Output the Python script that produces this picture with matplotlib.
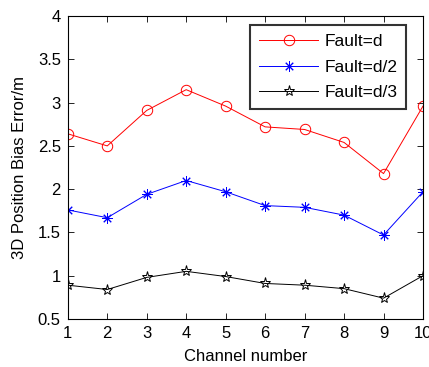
import matplotlib
matplotlib.use("Agg")
import matplotlib.pyplot as plt

plt.rcParams['font.family'] = ['Liberation Sans', 'DejaVu Sans']

channels = [1, 2, 3, 4, 5, 6, 7, 8, 9, 10]
err_d = [2.64, 2.50, 2.91, 3.15, 2.96, 2.72, 2.69, 2.54, 2.18, 2.96]
err_d2 = [1.76, 1.67, 1.94, 2.10, 1.97, 1.81, 1.79, 1.70, 1.47, 1.97]
err_d3 = [0.89, 0.84, 0.98, 1.05, 0.99, 0.91, 0.89, 0.85, 0.74, 1.00]
labels = ['Fault=d', 'Fault=d/2', 'Fault=d/3']

fig = plt.figure(figsize=(4.29, 3.67), dpi=100)
ax = fig.add_axes([0.158, 0.131, 0.828, 0.825])

ax.plot(channels, err_d, color='r', lw=0.7, marker='o', ms=7.5,
        mfc='none', mew=0.7, label=labels[0])
ax.plot(channels, err_d2, color='b', lw=0.7, marker=(8, 2, 0), ms=7.5,
        mew=0.7, label=labels[1])
ax.plot(channels, err_d3, color='k', lw=0.7, marker='*', ms=8,
        mfc='none', mew=0.7, label=labels[2])

ax.set_xlim(1, 10)
ax.set_ylim(0.5, 4)
ax.set_xticks(channels)
ax.set_yticks([0.5, 1, 1.5, 2, 2.5, 3, 3.5, 4])
ax.set_yticklabels(['0.5', '1', '1.5', '2', '2.5', '3', '3.5', '4'])
ax.tick_params(direction='in', top=True, right=True, length=4, width=0.6,
               labelsize=12, pad=5)
for s in ax.spines.values():
    s.set_linewidth(0.8)

ax.set_xlabel('Channel number', fontsize=12, labelpad=6)
ax.set_ylabel('3D Position Bias Error/m', fontsize=12, labelpad=8)

leg = ax.legend(loc='upper right', bbox_to_anchor=(0.952, 0.97),
                borderaxespad=0, fontsize=12.5, frameon=True, fancybox=False,
                edgecolor='k', handlelength=3.4, borderpad=0.5,
                labelspacing=0.6, handletextpad=0.35)
leg.get_frame().set_linewidth(1.5)

fig.savefig('out.png', dpi=100)
